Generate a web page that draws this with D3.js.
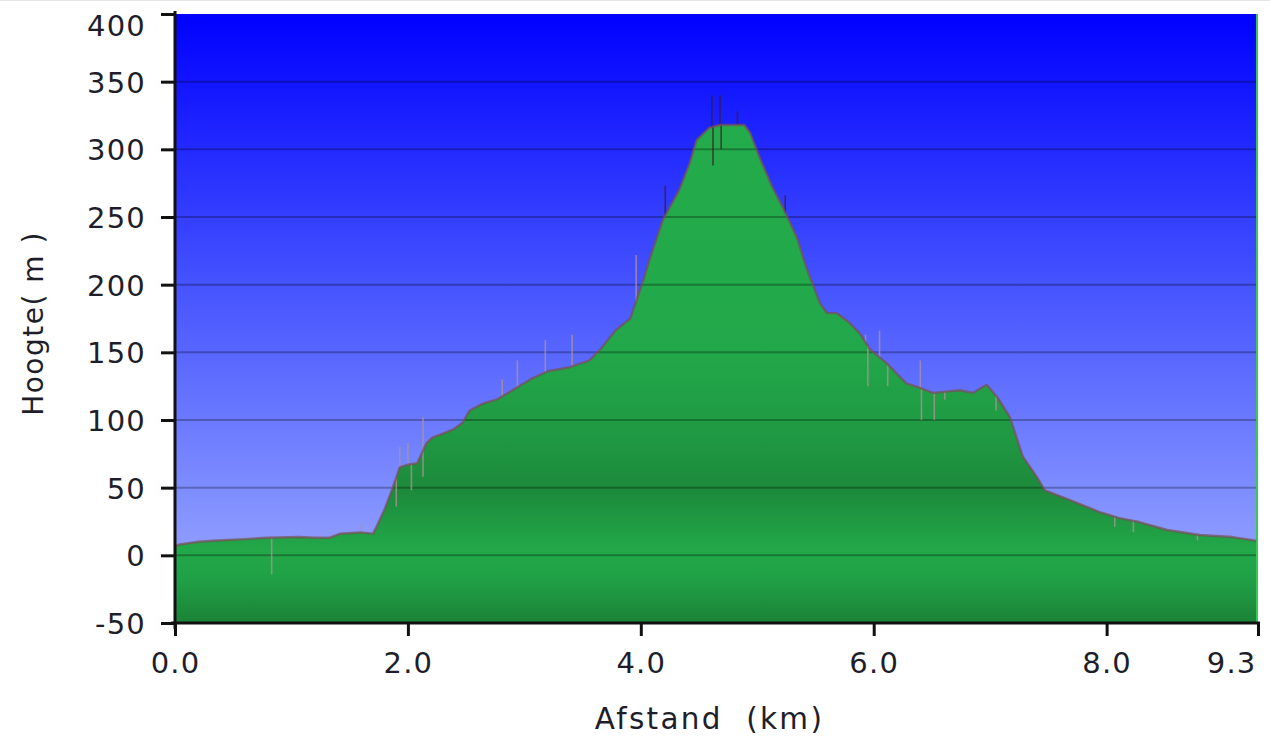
<!DOCTYPE html>
<html><head><meta charset="utf-8">
<script src="https://cdn.jsdelivr.net/npm/d3@7"></script>
<style>
html,body{margin:0;padding:0;background:#fff;}
svg{display:block;}
text{font-family:"DejaVu Sans",Verdana,sans-serif;fill:#1e1e2a;}
</style></head>
<body>
<script>
// Elevation profile: distance (km) and height (m)
const distanceKm = [0.00,0.04,0.20,0.36,0.60,0.79,1.07,1.20,1.33,1.42,1.59,1.70,1.73,1.80,1.87,1.93,2.00,2.08,2.16,2.21,2.30,2.39,2.47,2.53,2.64,2.76,2.88,3.05,3.20,3.39,3.56,3.65,3.78,3.91,4.02,4.08,4.19,4.33,4.42,4.48,4.59,4.68,4.76,4.89,4.94,5.02,5.13,5.22,5.34,5.42,5.54,5.60,5.68,5.79,5.88,5.97,6.11,6.28,6.39,6.51,6.62,6.74,6.85,6.97,7.06,7.17,7.28,7.40,7.47,7.68,7.94,8.11,8.28,8.52,8.80,9.08,9.27,9.30];
const heightM    = [7,8,10,11,12,13,13.5,13,13,16,17,16,21,34,50,65,67,68,83,87,90,93,98,107,112,115,121,130,136,139,144,152,166,175,203,220,248,270,290,307,316,318,318,318,312,294,272,257,235,213,186,179,179,172,164,152,142,127,124,120,121,122,120,126,117,102,73,58,48,41,32,27.5,24.6,18.7,15,13.5,11,10];
// GPS noise spikes: distance (km) and spike height (m)
const spikeKm = [0.83,1.60,1.90,1.93,2.00,2.03,2.13,2.13,2.81,2.94,3.18,3.41,3.96,4.21,4.61,4.62,4.68,4.69,4.83,5.24,5.93,5.95,6.05,6.12,6.40,6.41,6.52,6.61,7.05,8.07,8.23,8.78];
const spikeM  = [-14,23,36,80,83,48,102,58,130,144,159,163,222,273,340,288,340,300,328,266,163,125,166,125,144,100,100,115,107,21,17,11];
const yTicks = [-50,0,50,100,150,200,250,300,350,400];
const xTicks = [0,2,4,6,8,9.3];
const xTitle = "Afstand  (km)";
const yTitle = "Hoogte( m )";

const W = 1270, H = 746;
const m = {l:175, t:14, r:12, b:123};
const svg = d3.select("body").append("svg").attr("width", W).attr("height", H);
const x = d3.scaleLinear().domain([0, 9.3]).range([m.l, W - m.r]);
const y = d3.scaleLinear().domain([-50, 400]).range([H - m.b, m.t]);

const defs = svg.append("defs");
const sky = defs.append("linearGradient").attr("id","sky")
  .attr("gradientUnits","userSpaceOnUse").attr("x1",0).attr("x2",0).attr("y1",y(400)).attr("y2",y(-50));
[[0,"#0000ff"],[0.45,"#4654ff"],[0.8,"#8190ff"],[1,"#a4b0ff"]].forEach(s=>sky.append("stop").attr("offset",s[0]).attr("stop-color",s[1]));
const grass = defs.append("linearGradient").attr("id","grass")
  .attr("gradientUnits","userSpaceOnUse").attr("x1",0).attr("x2",0).attr("y1",y(400)).attr("y2",y(-50));
[[0,"#24ae4c"],[0.55,"#22a84a"],[0.70,"#1f9842"],[0.78,"#1c8a3b"],[0.88,"#22a849"],[0.93,"#20a046"],[1,"#1b8237"]].forEach(s=>grass.append("stop").attr("offset",s[0]).attr("stop-color",s[1]));

// background
svg.append("rect").attr("x", x(0)).attr("y", y(400)).attr("width", x(9.3)-x(0)).attr("height", y(-50)-y(400)).attr("fill","url(#sky)");

const pts = distanceKm.map((d,i)=>[d, heightM[i]]);
const area = d3.area().x(d=>x(d[0])).y0(y(-50)).y1(d=>y(d[1]));
const line = d3.line().x(d=>x(d[0])).y(d=>y(d[1]));

svg.append("path").datum(pts).attr("d", area).attr("fill","url(#grass)");

// grid lines
svg.append("g").selectAll("line").data(yTicks.filter(v=>v>-50 && v<400)).join("line")
  .attr("x1", x(0)).attr("x2", x(9.3)).attr("y1", d=>y(d)).attr("y2", d=>y(d))
  .attr("stroke","rgba(0,0,0,0.28)").attr("stroke-width",2);

// spikes
const interp = k => { const i = d3.bisector(d=>d).left(distanceKm, k); if(i<=0) return heightM[0]; const a=distanceKm[i-1], b=distanceKm[i]; const t=(k-a)/(b-a); return heightM[i-1]+t*(heightM[i]-heightM[i-1]); };
svg.append("g").selectAll("line").data(spikeKm.map((k,i)=>[k, spikeM[i]])).join("line")
  .attr("x1", d=>x(d[0])).attr("x2", d=>x(d[0])).attr("y1", d=>y(interp(d[0]))).attr("y2", d=>y(d[1]))
  .attr("stroke", d=> d[1]>250 ? "rgba(60,30,40,0.75)" : "rgba(170,150,150,0.75)").attr("stroke-width",1.6);

// outline
svg.append("path").datum(pts).attr("d", line).attr("fill","none")
  .attr("stroke","rgba(120,80,85,0.7)").attr("stroke-width",2.4).attr("stroke-linejoin","round");

// end marker at final distance
svg.append("line").attr("x1", x(9.3)-1).attr("x2", x(9.3)-1).attr("y1", y(400)).attr("y2", y(-50))
  .attr("stroke","#36c95a").attr("stroke-width",2);

// axes
const yAxis = svg.append("g").attr("transform",`translate(${x(0)},0)`)
  .call(d3.axisLeft(y).tickValues(yTicks).tickSize(14).tickPadding(15).tickFormat(d => String(d)));
const xAxis = svg.append("g").attr("transform",`translate(0,${y(-50)})`)
  .call(d3.axisBottom(x).tickValues(xTicks).tickSize(13).tickPadding(16).tickFormat(d3.format(".1f")));
[yAxis, xAxis].forEach(g=>{
  g.select(".domain").attr("stroke","#111").attr("stroke-width",3);
  g.selectAll(".tick line").attr("stroke","#111").attr("stroke-width",3);
  g.selectAll("text").attr("font-family","DejaVu Sans, Verdana, sans-serif").attr("font-size",29).attr("fill","#1e1e2a").attr("letter-spacing",1.2);
});
yAxis.select(".domain").attr("d", `M0,${y(400)-3}V${y(-50)+6}`);
xAxis.select(".domain").attr("d", `M${x(0)-4},0H${x(9.3)+2}`);
xAxis.selectAll(".tick text").filter(d=>d===9.3).attr("text-anchor","end").attr("dx",-2);
yAxis.selectAll(".tick text").attr("dy","0.36em");
yAxis.selectAll(".tick text").filter(d=>d===400).attr("dy","0.75em");

svg.append("text").attr("x", (x(0)+x(9.3))/2 - 7).attr("y", 729).attr("text-anchor","middle")
  .attr("font-size",29.5).attr("letter-spacing",2.3).style("white-space","pre").text(xTitle);
svg.append("text").attr("transform",`translate(43,${(y(-50)+y(400))/2 + 5}) rotate(-90)`).attr("text-anchor","middle")
  .attr("font-size",28).attr("letter-spacing",1.5).style("white-space","pre").text(yTitle);

// thin top border of image
svg.append("line").attr("x1",0).attr("x2",W).attr("y1",0.5).attr("y2",0.5).attr("stroke","#e4e4e4");
</script>
</body></html>
